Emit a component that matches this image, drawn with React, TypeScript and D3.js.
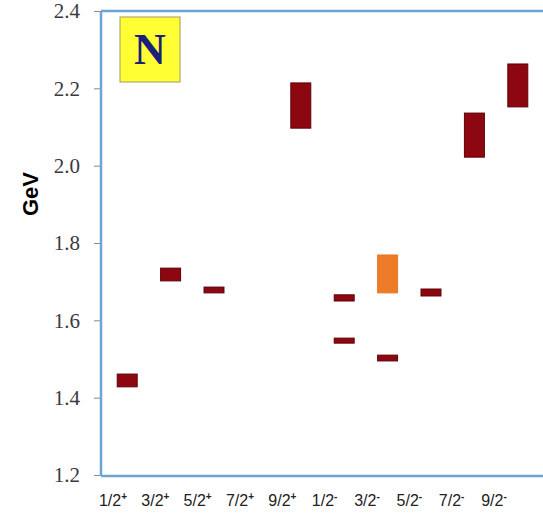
import * as d3 from 'd3';
import { useRef, useEffect } from 'react';

// spin-parity columns
const spins = ['1/2', '3/2', '5/2', '7/2', '9/2', '1/2', '3/2', '5/2', '7/2', '9/2'];
const parities = ['+', '+', '+', '+', '+', '-', '-', '-', '-', '-'];
const categories = spins.map((s, i) => s + parities[i]);

// resonance mass ranges (GeV)
const stateCategory = ['1/2+', '3/2+', '5/2+', '9/2+', '1/2-', '1/2-', '3/2-', '3/2-', '5/2-', '7/2-', '9/2-'];
const stateLow = [1.428, 1.702, 1.671, 2.097, 1.650, 1.541, 1.671, 1.495, 1.663, 2.022, 2.152];
const stateHigh = [1.461, 1.735, 1.686, 2.214, 1.666, 1.554, 1.769, 1.510, 1.681, 2.136, 2.263];
const stateHighlight = [false, false, false, false, false, false, true, false, false, false, false];

const yTicks = [1.2, 1.4, 1.6, 1.8, 2.0, 2.2, 2.4];

export default function App() {
    const ref = useRef<SVGSVGElement>(null);

    useEffect(() => {
        const width = 543;
        const height = 515;
        const svg = d3.select(ref.current)
            .attr('width', width)
            .attr('height', height);
        svg.selectAll('*').remove();

        const axisX = 101;
        const axisColor = '#6ea3d6';

        const x = d3.scaleBand()
            .domain(categories)
            .range([105.5, 539.5])
            .paddingInner(0.54)
            .paddingOuter(0.27);

        // labels sit a little left of the bars
        const xLabel = d3.scalePoint()
            .domain(categories)
            .range([113, 494]);

        const y = d3.scaleLinear()
            .domain([1.2, 2.4])
            .range([475, 11]);

        // y ticks and labels
        const yAxis = d3.axisLeft(y)
            .tickValues(yTicks)
            .tickSize(6)
            .tickPadding(14)
            .tickFormat(d3.format('.1f'));

        const gy = svg.append('g')
            .attr('transform', `translate(${axisX - 1}, 0)`)
            .call(yAxis);
        gy.select('.domain').remove();
        gy.selectAll('line').attr('stroke', '#888').attr('stroke-width', 1);
        gy.selectAll('text')
            .attr('fill', '#3a3a3a')
            .style('font-family', '"Liberation Serif", "DejaVu Serif", serif')
            .style('font-size', '21px');

        // frame
        svg.append('line')
            .attr('x1', axisX).attr('x2', axisX)
            .attr('y1', y(2.4)).attr('y2', y(1.2) + 1)
            .attr('stroke', axisColor).attr('stroke-width', 2.5);
        svg.append('line')
            .attr('x1', axisX).attr('x2', width)
            .attr('y1', y(2.4)).attr('y2', y(2.4))
            .attr('stroke', axisColor).attr('stroke-width', 2.5);
        svg.append('line')
            .attr('x1', axisX).attr('x2', width)
            .attr('y1', y(1.2) + 1).attr('y2', y(1.2) + 1)
            .attr('stroke', axisColor).attr('stroke-width', 2.5);

        // resonance boxes
        svg.selectAll('.state')
            .data(stateCategory.map((c, i) => ({ c, lo: stateLow[i], hi: stateHigh[i], hl: stateHighlight[i] })))
            .enter().append('rect')
            .attr('class', 'state')
            .attr('x', d => x(d.c)!)
            .attr('width', x.bandwidth())
            .attr('y', d => y(d.hi))
            .attr('height', d => y(d.lo) - y(d.hi))
            .attr('fill', d => d.hl ? '#ee7b27' : '#8d0710')
            .attr('stroke', d => d.hl ? '#e8772a' : '#5e0008')
            .attr('stroke-width', 1);

        // x labels with raised parity sign
        const lab = svg.selectAll('.xlab')
            .data(categories)
            .enter().append('text')
            .attr('class', 'xlab')
            .attr('x', d => xLabel(d)!)
            .attr('y', 506)
            .attr('text-anchor', 'middle')
            .attr('fill', '#222')
            .style('font-family', '"Liberation Sans", Arial, sans-serif')
            .style('font-size', '16px');
        lab.append('tspan').text((d, i) => spins[i]);
        lab.append('tspan')
            .attr('dy', -6)
            .style('font-size', '10px')
            .style('font-weight', 'bold')
            .text((d, i) => parities[i]);

        // GeV title
        svg.append('text')
            .attr('transform', 'translate(38, 194) rotate(-90)')
            .attr('text-anchor', 'middle')
            .attr('fill', '#000')
            .style('font-family', '"Liberation Sans", Arial, sans-serif')
            .style('font-weight', 'bold')
            .style('font-size', '22px')
            .text('GeV');

        // N badge
        svg.append('rect')
            .attr('x', 120).attr('y', 17)
            .attr('width', 60).attr('height', 65)
            .attr('fill', '#ffff33')
            .attr('stroke', '#a09a6a').attr('stroke-width', 1);
        svg.append('text')
            .attr('x', 150).attr('y', 64)
            .attr('text-anchor', 'middle')
            .attr('fill', '#1c1f78')
            .style('font-family', '"Liberation Serif", "DejaVu Serif", serif')
            .style('font-weight', 'bold')
            .style('font-size', '44px')
            .text('N');
    }, []);

    return (
        <svg ref={ref} style={{ position: 'absolute', left: 0, top: 0, background: '#fff' }}></svg>
    );
}
